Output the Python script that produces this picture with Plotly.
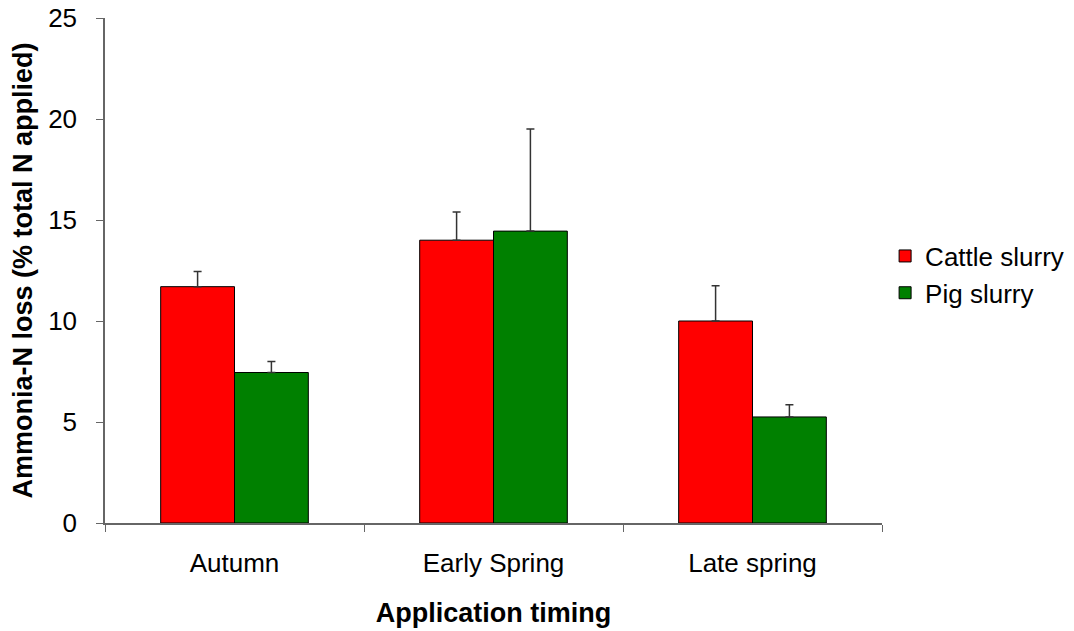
import plotly.graph_objects as go

categories = ["Autumn", "Early Spring", "Late spring"]
cattle = [11.7, 14.0, 10.0]
cattle_err = [0.75, 1.4, 1.75]
pig = [7.45, 14.45, 5.25]
pig_err = [0.55, 5.05, 0.6]

fig = go.Figure()
fig.add_trace(go.Bar(
    x=categories, y=cattle, name="Cattle slurry",
    marker=dict(color="#FF0000", line=dict(color="#000000", width=1)),
    error_y=dict(type="data", array=cattle_err, arrayminus=[0]*3, symmetric=False,
                 color="#333333", thickness=1.5, width=4),
))
fig.add_trace(go.Bar(
    x=categories, y=pig, name="Pig slurry",
    marker=dict(color="#008000", line=dict(color="#000000", width=1)),
    error_y=dict(type="data", array=pig_err, arrayminus=[0]*3, symmetric=False,
                 color="#333333", thickness=1.5, width=4),
))

font = "Liberation Sans, Arial, sans-serif"
fig.update_layout(
    width=1074, height=631,
    margin=dict(l=105, r=192, t=18, b=108, autoexpand=False),
    paper_bgcolor="white", plot_bgcolor="white",
    barmode="group", bargap=0.43, bargroupgap=0,
    font=dict(family=font, size=26, color="#000000"),
    legend=dict(x=1.004, y=0.492, xanchor="left", yanchor="middle",
                font=dict(size=26), itemwidth=30, tracegroupgap=6),
    xaxis=dict(
        automargin=False,
        showline=True, linecolor="#666666", linewidth=1.5,
        ticks="outside", tickson="boundaries", ticklen=7, tickcolor="#666666",
        tickfont=dict(size=26), ticklabelstandoff=16,
        title=dict(text="<b>Application timing</b>", font=dict(size=27), standoff=26),
    ),
    yaxis=dict(
        automargin=False,
        range=[0, 25], dtick=5, showgrid=False, zeroline=False,
        showline=True, linecolor="#666666", linewidth=1.5,
        ticks="outside", ticklen=7, tickcolor="#666666",
        tickfont=dict(size=26), ticklabelstandoff=14,
        title=dict(text="<b>Ammonia-N loss (% total N applied)</b>", font=dict(size=27), standoff=8),
    ),
)

fig.write_html("out.html")
